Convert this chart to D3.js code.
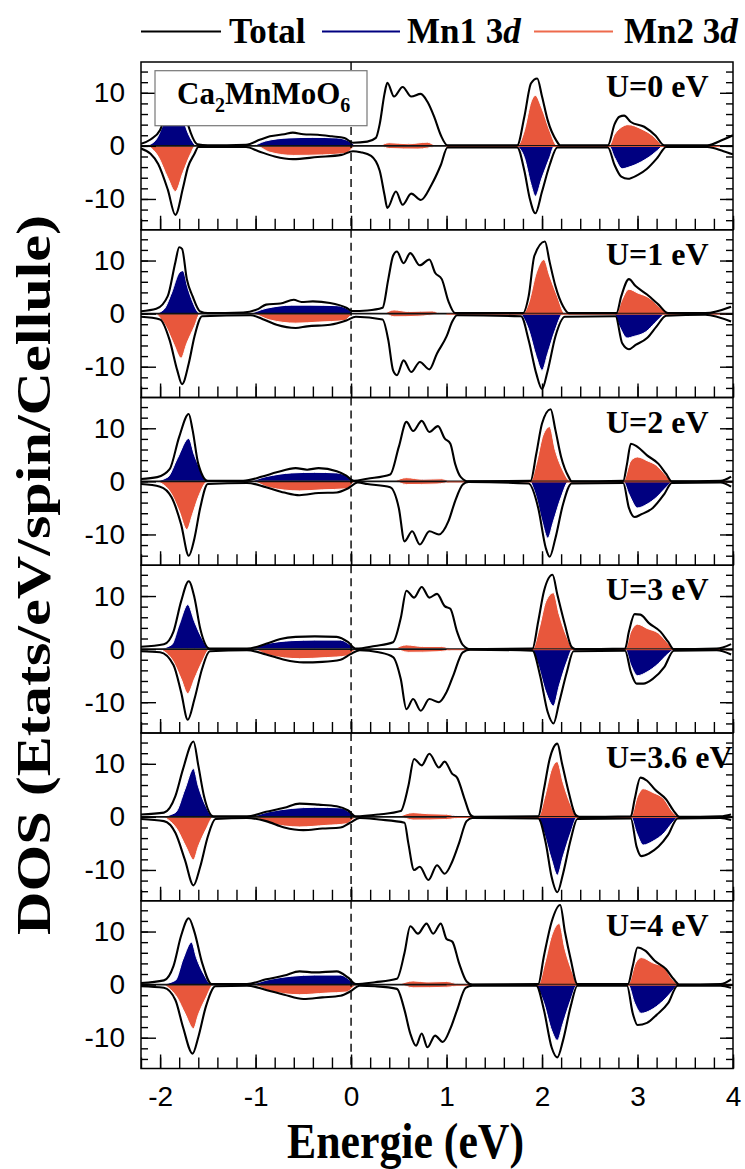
<!DOCTYPE html>
<html>
<head>
<meta charset="utf-8">
<script src="https://cdn.jsdelivr.net/npm/d3@7"></script>
<style>
  body { margin: 0; background: #fff; }
  svg { display: block; }
</style>
</head>
<body>
<svg id="chart" width="745" height="1169"></svg>
<script>
// ---- data: [energy (eV), DOS] pairs, one list per panel ----
const panelLabels = ["U=0 eV", "U=1 eV", "U=2 eV", "U=3 eV", "U=3.6 eV", "U=4 eV"];
const xMajorTicks = [-2, -1, 0, 1, 2, 3, 4];
const yMajorTicks = [-10, 0, 10];
const xDomain = [-2.2, 4];
const yDomain = [-15.8, 15.8];

const totalUp = [
  [[-2.2,0.4],[-2.1,1.2],[-2.0,3],[-1.93,7],[-1.86,12],[-1.82,12.6],[-1.78,10],[-1.73,5.5],[-1.68,2.5],[-1.61,0.3],[-1.5,0.1],[-1.1,0.2],[-0.95,1.2],[-0.85,1.8],[-0.7,2.2],[-0.61,2.5],[-0.5,2.2],[-0.35,2.1],[-0.2,1.8],[-0.07,1.5],[0.02,0.6],[0.17,0.8],[0.26,1.5],[0.30,4.1],[0.35,9.8],[0.38,11.9],[0.45,9.3],[0.54,11.1],[0.63,9.3],[0.73,9.8],[0.8,8.3],[0.87,5.5],[0.94,2],[1.01,0.1],[1.74,0.1],[1.815,5.5],[1.885,11.8],[1.95,12.7],[2.0,9.3],[2.06,4.8],[2.15,1],[2.19,0.1],[2.69,0.1],[2.76,4.1],[2.81,5.5],[2.86,5.7],[2.93,4.5],[3.07,3.6],[3.19,1.9],[3.28,0.1],[3.73,0.1],[3.9,1.2],[4.0,2]],
  [[-2.2,0.45],[-2.04,0.9],[-1.92,3.3],[-1.84,9.7],[-1.80,12.5],[-1.77,12.2],[-1.72,6.5],[-1.66,3.3],[-1.58,0.4],[-1.5,0.1],[-1.13,0.2],[-0.97,0.9],[-0.89,1.7],[-0.74,1.9],[-0.60,2.6],[-0.52,2.2],[-0.40,2.3],[-0.22,2.0],[-0.05,1.1],[0.01,0.5],[0.17,0.6],[0.33,1.1],[0.39,6.5],[0.44,10.9],[0.48,11.7],[0.55,9.5],[0.62,11.4],[0.72,9.1],[0.82,10.2],[0.88,7.7],[0.95,6.5],[1.02,2.3],[1.09,0.1],[1.80,0.1],[1.86,3.3],[1.92,10.9],[2.03,13.6],[2.08,9.7],[2.14,5.2],[2.22,1.4],[2.28,0.1],[2.78,0.1],[2.83,3.3],[2.91,6.5],[2.98,5.2],[3.10,3.6],[3.22,1.7],[3.32,0.1],[3.71,0.1],[3.98,1.3]],
  [[-2.2,0.45],[-2.03,0.8],[-1.90,2.3],[-1.80,8.4],[-1.70,12.7],[-1.66,9.7],[-1.60,3.3],[-1.50,0.1],[-1.13,0.1],[-0.93,0.9],[-0.78,1.7],[-0.58,2.5],[-0.46,2.2],[-0.34,2.5],[-0.15,1.9],[-0.05,1.1],[0.03,0.1],[0.17,0.5],[0.41,1.3],[0.50,6.5],[0.58,11.2],[0.65,9.5],[0.74,11.4],[0.82,9.3],[0.91,10.4],[0.98,8.1],[1.04,7.1],[1.09,3.3],[1.15,0.8],[1.23,0],[1.88,0.1],[1.94,5.2],[2.0,10.9],[2.09,13.6],[2.14,9.7],[2.20,4.6],[2.28,0.8],[2.31,0],[2.85,0.1],[2.89,3.3],[2.93,7.1],[3.0,6.5],[3.10,4.9],[3.22,3.3],[3.30,1.4],[3.36,0],[3.87,0.1],[3.98,0.9]],
  [[-2.2,0.45],[-1.96,0.9],[-1.86,3.3],[-1.78,9],[-1.70,12.8],[-1.64,9.7],[-1.58,3.9],[-1.48,0.1],[-1.09,0.1],[-0.89,1],[-0.74,1.9],[-0.58,2.3],[-0.38,2.4],[-0.15,2.3],[-0.03,1.3],[0.05,0.1],[0.25,0.6],[0.44,1.3],[0.52,5.8],[0.58,11],[0.66,9.7],[0.74,11.7],[0.82,9.7],[0.90,10.4],[0.98,8.1],[1.04,7.6],[1.11,3.3],[1.17,0.8],[1.25,0],[1.90,0.1],[1.96,5.2],[2.02,10.9],[2.11,14],[2.16,10.3],[2.24,4.6],[2.31,0.4],[2.35,0],[2.87,0.1],[2.91,3.3],[2.97,6.6],[3.03,6.5],[3.12,4.9],[3.24,3.3],[3.32,1.4],[3.38,0],[3.83,0.1],[3.98,0.95]],
  [[-2.2,0.45],[-1.96,0.8],[-1.84,3.9],[-1.76,9],[-1.65,14.2],[-1.60,9.7],[-1.54,3.9],[-1.44,0.1],[-1.09,0.1],[-0.89,0.95],[-0.70,1.7],[-0.54,2.5],[-0.34,2.3],[-0.15,2],[-0.03,1.2],[0.05,0.1],[0.29,0.45],[0.52,1.1],[0.60,5.8],[0.66,10.9],[0.74,9.7],[0.82,11.9],[0.92,9.3],[0.98,10.4],[1.06,8.1],[1.11,7.4],[1.19,3.3],[1.25,0.4],[1.29,0],[1.96,0.1],[2.02,5.2],[2.08,10.9],[2.16,13.8],[2.21,10],[2.28,4.6],[2.35,0.4],[2.39,0],[2.93,0.1],[2.97,3.3],[3.03,7.4],[3.10,6.8],[3.18,5.2],[3.30,3.3],[3.38,1.1],[3.44,0],[3.87,0.1],[3.98,0.45]],
  [[-2.2,0.3],[-1.96,0.8],[-1.86,3.5],[-1.78,9.2],[-1.70,12.5],[-1.64,9.9],[-1.56,4.1],[-1.46,0.1],[-1.09,0.1],[-0.89,1],[-0.70,1.7],[-0.54,2.5],[-0.38,2.3],[-0.15,2.5],[-0.03,1.3],[0.05,0.1],[0.25,0.45],[0.48,1.1],[0.56,6],[0.62,11],[0.70,9.6],[0.79,11.5],[0.86,9.6],[0.94,11.5],[1.0,8.6],[1.06,8.1],[1.13,4.1],[1.21,0.6],[1.27,0],[1.96,0.1],[2.02,5.4],[2.10,11.8],[2.19,15],[2.24,9.9],[2.30,4.8],[2.37,0.1],[2.9,0.1],[2.95,3.5],[3.0,7],[3.08,6.4],[3.18,4.5],[3.30,2.9],[3.38,1],[3.44,0],[3.87,0.1],[3.98,1]]
];

const totalDown = [
  [[-2.2,-0.5],[-2.1,-1.5],[-2.02,-3.4],[-1.92,-8.2],[-1.84,-13],[-1.76,-7.9],[-1.71,-4.1],[-1.64,-1.5],[-1.6,-0.2],[-1.1,-0.2],[-0.97,-1],[-0.8,-2],[-0.61,-2.5],[-0.35,-2.1],[-0.1,-1.7],[0.02,-1.0],[0.1,-1.2],[0.21,-1.9],[0.30,-4.7],[0.35,-9.2],[0.38,-11.7],[0.47,-8.6],[0.54,-11.1],[0.63,-9],[0.73,-10.2],[0.84,-7.4],[0.94,-3.6],[1.01,-0.3],[1.74,-0.3],[1.815,-4.7],[1.87,-9.8],[1.93,-12.7],[2.0,-8.6],[2.08,-3.6],[2.16,-0.3],[2.69,-0.3],[2.76,-3.6],[2.83,-5.8],[2.9,-6.2],[3.0,-5.5],[3.1,-4.3],[3.21,-2.2],[3.3,-0.2],[3.73,-0.2],[3.9,-1],[4.0,-1.6]],
  [[-2.2,-0.6],[-2.0,-1.1],[-1.90,-5],[-1.82,-10.7],[-1.77,-13.3],[-1.70,-9.4],[-1.64,-4.3],[-1.56,-0.5],[-1.05,-0.3],[-0.93,-1],[-0.78,-2.1],[-0.58,-2.7],[-0.46,-2.4],[-0.22,-2.1],[-0.05,-1.3],[0.05,-0.6],[0.33,-1.1],[0.39,-5],[0.44,-10.7],[0.48,-11.6],[0.55,-8.8],[0.63,-11],[0.72,-9.1],[0.82,-10.5],[0.90,-7.5],[1.00,-4.3],[1.06,-1.5],[1.11,-0.3],[1.78,-0.5],[1.86,-5],[1.94,-11.3],[2.0,-14.2],[2.06,-10.7],[2.14,-4.3],[2.24,-0.6],[2.77,-0.5],[2.84,-5.6],[2.91,-6.7],[2.98,-5.9],[3.10,-4.6],[3.20,-2.4],[3.30,-0.4],[3.71,-0.2],[3.98,-1.5]],
  [[-2.2,-0.5],[-2.0,-1],[-1.88,-3],[-1.78,-8.1],[-1.70,-14],[-1.64,-10.7],[-1.58,-5],[-1.50,-0.5],[-1.09,-0.3],[-0.89,-1.1],[-0.70,-2.1],[-0.54,-2.6],[-0.34,-2.2],[-0.15,-2.1],[-0.03,-1.3],[0.07,-0.2],[0.17,-0.5],[0.41,-1.1],[0.50,-5],[0.56,-11.3],[0.64,-9.4],[0.72,-11.9],[0.82,-9.4],[0.92,-10],[1.02,-7.5],[1.09,-3.7],[1.17,-0.6],[1.23,-0.1],[1.86,-0.4],[1.96,-5],[2.04,-12.6],[2.08,-14.2],[2.14,-10.7],[2.22,-4.3],[2.31,-0.4],[2.85,-0.3],[2.91,-5],[2.97,-6.7],[3.04,-6.2],[3.16,-5],[3.28,-2.4],[3.36,-0.3],[3.87,-0.2],[3.98,-1]],
  [[-2.2,-0.4],[-2.0,-0.6],[-1.86,-3],[-1.78,-8.1],[-1.71,-13.3],[-1.64,-9.4],[-1.56,-3.7],[-1.48,-0.4],[-1.09,-0.2],[-0.89,-1],[-0.70,-2],[-0.50,-2.5],[-0.30,-2.4],[-0.11,-2],[-0.01,-1],[0.09,-0.2],[0.29,-0.6],[0.44,-1.5],[0.52,-5.6],[0.58,-11.3],[0.65,-9.4],[0.73,-11.6],[0.82,-9.4],[0.92,-10],[1.0,-8.1],[1.07,-5],[1.17,-0.6],[1.25,-0.1],[1.90,-0.3],[1.98,-5],[2.06,-11.9],[2.12,-14],[2.18,-10],[2.26,-4.3],[2.33,-0.4],[2.87,-0.3],[2.93,-4.3],[2.99,-6.5],[3.06,-6.5],[3.16,-5.6],[3.28,-3.4],[3.38,-0.3],[3.83,-0.2],[3.98,-1]],
  [[-2.2,-0.4],[-1.96,-0.8],[-1.84,-3],[-1.74,-8.1],[-1.65,-12.9],[-1.58,-9.4],[-1.50,-3.7],[-1.42,-0.4],[-1.09,-0.2],[-0.89,-0.8],[-0.70,-2],[-0.50,-2.5],[-0.30,-2.2],[-0.11,-2],[-0.01,-1.1],[0.09,-0.2],[0.29,-0.5],[0.56,-1.1],[0.60,-5],[0.66,-10],[0.72,-9.4],[0.81,-11.9],[0.90,-9.1],[0.98,-10.7],[1.06,-8.4],[1.13,-5],[1.21,-0.8],[1.27,-0.2],[1.96,-0.3],[2.04,-5],[2.10,-11.3],[2.16,-14.2],[2.22,-10.7],[2.30,-4.3],[2.37,-0.4],[2.93,-0.3],[2.99,-5.6],[3.04,-7.4],[3.12,-6.9],[3.22,-5.6],[3.32,-3.4],[3.42,-0.3],[3.87,-0.2],[3.98,-0.6]],
  [[-2.2,-0.3],[-1.96,-0.6],[-1.84,-2.9],[-1.76,-8],[-1.66,-13],[-1.60,-9.9],[-1.52,-4.1],[-1.42,-0.3],[-1.09,-0.2],[-0.89,-1],[-0.70,-1.9],[-0.50,-2.7],[-0.30,-2.4],[-0.11,-2.1],[-0.01,-1.3],[0.09,-0.2],[0.25,-0.3],[0.48,-0.8],[0.56,-4.8],[0.62,-9.2],[0.68,-11.5],[0.74,-9.2],[0.80,-11.8],[0.88,-9.6],[0.96,-10.8],[1.04,-8.3],[1.11,-4.8],[1.20,-0.6],[1.27,-0.2],[1.94,-0.2],[2.02,-4.8],[2.10,-11.8],[2.16,-13.7],[2.22,-10.5],[2.30,-4.1],[2.37,-0.2],[2.89,-0.2],[2.95,-5.4],[3.0,-7.6],[3.10,-7.2],[3.20,-5.7],[3.32,-3.5],[3.42,-0.2],[3.87,-0.2],[3.98,-0.6]]
];

// Mn1 3d (navy)
const mn1Up = [
  [[-2.15,0],[-2.05,1],[-1.97,4],[-1.9,7.5],[-1.84,8.5],[-1.78,6.5],[-1.72,3],[-1.66,0.8],[-1.62,0],[-1.05,0],[-0.9,0.9],[-0.65,1.5],[-0.4,1.6],[-0.15,1.5],[0.0,0.7],[0.05,0],[0.3,0],[0.45,0.4],[0.75,0.5],[0.9,0]],
  [[-2.05,0],[-1.96,0.8],[-1.88,3.9],[-1.80,7.7],[-1.76,8.1],[-1.71,4.9],[-1.66,2.3],[-1.58,0],[-1.09,0],[-0.89,1.0],[-0.62,1.6],[-0.42,1.6],[-0.15,1.5],[-0.03,0.8],[0.03,0],[0.35,0],[0.5,0.4],[0.8,0.5],[0.95,0]],
  [[-2.07,0],[-1.92,0.8],[-1.82,4.3],[-1.70,8.1],[-1.64,4.9],[-1.58,2.3],[-1.50,0],[-1.09,0],[-0.89,0.9],[-0.62,1.6],[-0.38,1.7],[-0.15,1.6],[0.01,0.5],[0.05,0],[0.45,0],[0.6,0.4],[0.9,0.5],[1.05,0]],
  [[-2.03,0],[-1.88,0.8],[-1.80,4.6],[-1.71,8.4],[-1.64,5.2],[-1.56,2],[-1.48,0],[-1.09,0],[-0.89,1.0],[-0.62,1.6],[-0.38,1.7],[-0.11,1.7],[0.01,0.6],[0.07,0],[0.45,0],[0.6,0.4],[0.9,0.5],[1.08,0]],
  [[-2.0,0],[-1.84,0.8],[-1.74,5.2],[-1.65,9.1],[-1.60,5.8],[-1.52,2],[-1.44,0],[-1.09,0],[-0.85,1.0],[-0.62,1.6],[-0.38,1.8],[-0.11,1.7],[0.01,0.6],[0.07,0],[0.5,0],[0.7,0.4],[1.0,0.5],[1.15,0]],
  [[-2.0,0],[-1.84,0.8],[-1.76,4.8],[-1.67,8],[-1.62,5.1],[-1.54,1.9],[-1.46,0],[-1.09,0],[-0.85,1.0],[-0.62,1.6],[-0.38,1.8],[-0.11,1.8],[0.01,0.6],[0.07,0],[0.5,0],[0.7,0.4],[1.0,0.5],[1.15,0]]
];
const mn1Down = [
  [[1.74,0],[1.815,-2.2],[1.885,-7.3],[1.93,-9.5],[2.0,-6],[2.08,-2.2],[2.13,0],[2.7,0],[2.76,-2.2],[2.84,-4.3],[2.91,-4],[3.04,-3],[3.16,-1.6],[3.26,0]],
  [[1.78,0],[1.86,-3],[1.94,-8.1],[2.0,-10.7],[2.06,-7.5],[2.14,-3],[2.22,0],[2.75,0],[2.81,-2.4],[2.89,-4.6],[2.96,-4.3],[3.09,-3.4],[3.18,-1.8],[3.28,0]],
  [[1.88,0],[1.94,-3],[2.0,-7.5],[2.06,-10.7],[2.12,-7.5],[2.20,-3],[2.28,0],[2.85,0],[2.91,-2.4],[3.0,-5],[3.10,-4.3],[3.20,-3],[3.28,-1.5],[3.36,0]],
  [[1.90,0],[1.96,-3],[2.04,-8.1],[2.12,-10.7],[2.18,-6.9],[2.26,-2.4],[2.32,0],[2.87,0],[2.93,-3],[3.0,-5],[3.10,-4.3],[3.22,-2.7],[3.30,-1.2],[3.38,0]],
  [[1.96,0],[2.02,-3],[2.10,-8.1],[2.16,-11],[2.22,-7.5],[2.30,-3],[2.37,0],[2.93,0],[2.99,-3],[3.06,-5.3],[3.16,-4.6],[3.28,-3],[3.36,-1.2],[3.42,0]],
  [[1.94,0],[2.02,-3.5],[2.10,-8.6],[2.16,-10.5],[2.22,-7.3],[2.30,-2.9],[2.37,0],[2.9,0],[2.97,-3.5],[3.04,-5.4],[3.14,-4.8],[3.26,-3.2],[3.36,-1.3],[3.42,0]]
];

// Mn2 3d (orange)
const mn2Up = [
  [[0.3,0],[0.4,0.6],[0.6,0.4],[0.8,0.7],[0.9,0],[1.74,0],[1.815,2.9],[1.885,8.3],[1.93,9.5],[2.0,7],[2.08,2.9],[2.16,0],[2.7,0],[2.76,2.2],[2.83,3.5],[2.9,4],[3.04,3.2],[3.16,1.9],[3.26,0]],
  [[0.35,0],[0.45,0.7],[0.6,0.4],[0.85,0.5],[0.95,0],[1.8,0],[1.86,2],[1.94,7.7],[2.02,10.2],[2.08,7.1],[2.16,3.3],[2.24,0],[2.78,0],[2.83,2.3],[2.91,4.6],[3.0,3.9],[3.12,3],[3.24,1.1],[3.32,0]],
  [[0.45,0],[0.58,0.7],[0.75,0.4],[0.95,0.5],[1.05,0],[1.88,0],[1.94,3.3],[2.01,8.7],[2.08,10.3],[2.14,5.8],[2.22,2],[2.30,0],[2.85,0],[2.93,3.9],[3.0,4.6],[3.10,3.9],[3.20,3],[3.30,1.1],[3.36,0]],
  [[0.45,0],[0.58,0.8],[0.75,0.5],[0.95,0.5],[1.08,0],[1.90,0],[1.97,3.9],[2.04,9],[2.12,10.6],[2.18,6.5],[2.26,2.3],[2.33,0],[2.87,0],[2.93,3.3],[3.0,4.7],[3.10,3.9],[3.22,3],[3.32,1.1],[3.38,0]],
  [[0.5,0],[0.65,0.8],[0.8,0.6],[1.0,0.5],[1.15,0],[1.96,0],[2.03,3.9],[2.10,9],[2.16,10.4],[2.22,6.5],[2.30,2.3],[2.37,0],[2.93,0],[3.0,3.9],[3.06,5.3],[3.16,4.6],[3.28,3.3],[3.36,1.1],[3.42,0]],
  [[0.5,0],[0.65,0.7],[0.8,0.5],[1.0,0.6],[1.15,0],[1.96,0],[2.03,4.1],[2.10,9.2],[2.18,11.5],[2.24,6.7],[2.32,2.2],[2.37,0],[2.9,0],[2.98,4.1],[3.04,5.1],[3.16,4.1],[3.28,3.2],[3.36,1.1],[3.42,0]]
];
const mn2Down = [
  [[-2.12,0],[-2.02,-2],[-1.92,-6],[-1.84,-8.6],[-1.76,-5],[-1.68,-1.5],[-1.63,0],[-1.0,0],[-0.85,-1.2],[-0.6,-1.8],[-0.3,-1.7],[-0.05,-1.4],[0.05,0],[0.3,0],[0.4,-0.5],[0.7,-0.6],[0.9,0]],
  [[-2.04,0],[-1.94,-2.4],[-1.86,-5.6],[-1.78,-8.4],[-1.72,-5.6],[-1.64,-2.4],[-1.58,0],[-1.05,0],[-0.85,-1.2],[-0.58,-1.8],[-0.34,-1.6],[-0.07,-1.3],[0.03,0],[0.35,0],[0.45,-0.6],[0.7,-0.5],[0.95,0]],
  [[-2.03,0],[-1.88,-2.4],[-1.80,-5.6],[-1.72,-9.1],[-1.66,-6.2],[-1.60,-3],[-1.50,0],[-1.05,0],[-0.85,-1.2],[-0.54,-1.8],[-0.30,-1.6],[-0.05,-1.4],[0.05,0],[0.45,0],[0.58,-0.6],[0.9,-0.5],[1.05,0]],
  [[-2.0,0],[-1.86,-2.4],[-1.78,-5.6],[-1.71,-8.4],[-1.64,-5.6],[-1.56,-2.4],[-1.48,0],[-1.05,0],[-0.85,-1.2],[-0.54,-1.8],[-0.26,-1.6],[-0.05,-1.3],[0.07,0],[0.45,0],[0.6,-0.6],[0.9,-0.5],[1.08,0]],
  [[-1.96,0],[-1.82,-2.4],[-1.73,-5.6],[-1.65,-8.1],[-1.60,-5.6],[-1.52,-2.4],[-1.44,0],[-1.05,0],[-0.85,-1.2],[-0.54,-1.9],[-0.26,-1.6],[-0.05,-1.3],[0.07,0],[0.5,0],[0.65,-0.6],[1.0,-0.5],[1.15,0]],
  [[-1.96,0],[-1.82,-2.5],[-1.74,-5.4],[-1.65,-8.3],[-1.60,-5.7],[-1.52,-2.5],[-1.44,0],[-1.05,0],[-0.85,-1.2],[-0.54,-1.9],[-0.26,-1.6],[-0.05,-1.4],[0.07,0],[0.5,0],[0.65,-0.6],[1.0,-0.5],[1.15,0]]
];

// ---- drawing ----
const svg = d3.select("#chart");
const width = 745, height = 1169;
const plotLeft = 141, plotRight = 733, plotTop = 62, panelH = 167.75;
const navy = "#000080", orange = "#E8573C";
const serif = "'Liberation Serif', 'Times New Roman', serif";
const sans = "'Liberation Sans', Arial, sans-serif";

svg.append("rect").attr("width", width).attr("height", height).attr("fill", "white");

const x = d3.scaleLinear().domain(xDomain).range([plotLeft, plotRight]);
const xMinor = d3.range(-22, 41, 2).map(d => d / 10);
const yMinor = d3.range(-14, 15, 2);

panelLabels.forEach((label, i) => {
    const top = plotTop + i * panelH;
    const bottom = top + panelH;
    const y = d3.scaleLinear().domain(yDomain).range([bottom, top]);

    svg.append("clipPath").attr("id", "clip" + i)
        .append("rect")
        .attr("x", plotLeft).attr("y", top)
        .attr("width", plotRight - plotLeft).attr("height", panelH);

    const g = svg.append("g");
    const plot = g.append("g").attr("clip-path", `url(#clip${i})`);

    const area = d3.area()
        .x(d => x(d[0]))
        .y0(y(0))
        .y1(d => y(d[1]))
        .curve(d3.curveMonotoneX);
    const line = d3.line()
        .x(d => x(d[0]))
        .y(d => y(d[1]))
        .curve(d3.curveMonotoneX);

    // projected DOS fills
    [[mn1Up, navy], [mn1Down, navy], [mn2Up, orange], [mn2Down, orange]].forEach(([series, color]) => {
        plot.append("path")
            .datum(series[i])
            .attr("d", area)
            .attr("fill", color)
            .attr("stroke", "white")
            .attr("stroke-width", 1)
            .attr("stroke-linejoin", "round");
    });

    // zero lines
    plot.append("line")
        .attr("x1", plotLeft).attr("x2", plotRight)
        .attr("y1", y(0)).attr("y2", y(0))
        .attr("stroke", "#111").attr("stroke-width", 1.8);
    plot.append("line")
        .attr("x1", x(1.0)).attr("x2", plotRight)
        .attr("y1", y(0) + 0.6).attr("y2", y(0) + 0.6)
        .attr("stroke", orange).attr("stroke-width", 0.9);

    // total DOS
    [totalUp, totalDown].forEach(series => {
        plot.append("path")
            .datum(series[i])
            .attr("d", line)
            .attr("fill", "none")
            .attr("stroke", "#000")
            .attr("stroke-width", 2.1)
            .attr("stroke-linejoin", "round");
    });

    // Fermi level
    g.append("line")
        .attr("x1", x(0)).attr("x2", x(0))
        .attr("y1", top).attr("y2", bottom)
        .attr("stroke", "#000").attr("stroke-width", 1.4)
        .attr("stroke-dasharray", "8,5");

    // ticks
    const styleAxis = sel => {
        sel.select(".domain").remove();
        sel.selectAll(".tick line").attr("stroke", "#000").attr("stroke-width", 1.4);
        sel.selectAll("text").attr("font-family", sans).attr("font-size", 28).attr("fill", "#000");
    };
    g.append("g").attr("transform", `translate(${plotLeft},0)`)
        .call(d3.axisLeft(y).tickValues(yMinor).tickSize(-7).tickFormat(""))
        .call(styleAxis);
    g.append("g").attr("transform", `translate(${plotLeft},0)`)
        .call(d3.axisLeft(y).tickValues(yMajorTicks).tickSize(-15).tickPadding(16).tickFormat(d => String(d)))
        .call(styleAxis);
    g.append("g").attr("transform", `translate(${plotRight},0)`)
        .call(d3.axisRight(y).tickValues(yMinor).tickSize(-7).tickFormat(""))
        .call(styleAxis);
    g.append("g").attr("transform", `translate(${plotRight},0)`)
        .call(d3.axisRight(y).tickValues(yMajorTicks).tickSize(-13).tickFormat(""))
        .call(styleAxis);
    g.append("g").attr("transform", `translate(0,${bottom})`)
        .call(d3.axisBottom(x).tickValues(xMinor).tickSize(-11).tickFormat(""))
        .call(styleAxis);
    g.append("g").attr("transform", `translate(0,${bottom})`)
        .call(d3.axisBottom(x).tickValues(xMajorTicks).tickSize(-14).tickPadding(18)
            .tickFormat(i === panelLabels.length - 1 ? (d => String(d)) : ""))
        .call(styleAxis);

    // frame
    g.append("rect")
        .attr("x", plotLeft).attr("y", top)
        .attr("width", plotRight - plotLeft).attr("height", panelH)
        .attr("fill", "none").attr("stroke", "#000").attr("stroke-width", 1.5);

    // panel label
    g.append("text")
        .attr("x", 606).attr("y", top + 35)
        .attr("font-family", serif).attr("font-weight", "bold").attr("font-size", 32)
        .text(label);
});

// compound box in the first panel
const box = svg.append("g");
box.append("rect")
    .attr("x", 155).attr("y", 70.7).attr("width", 212).attr("height", 55)
    .attr("fill", "white").attr("stroke", "#777").attr("stroke-width", 1.2);
const formula = box.append("text")
    .attr("x", 177).attr("y", 104)
    .attr("font-family", serif).attr("font-weight", "bold").attr("font-size", 31);
formula.append("tspan").text("Ca");
formula.append("tspan").attr("font-size", 20).attr("dy", 8).text("2");
formula.append("tspan").attr("dy", -8).text("MnMoO");
formula.append("tspan").attr("font-size", 20).attr("dy", 8).text("6");

// legend
const legendItems = [
    { label: "Total", sub: "", color: "#000", x1: 141, x2: 221, tx: 229 },
    { label: "Mn1 3", sub: "d", color: navy, x1: 322, x2: 400, tx: 407 },
    { label: "Mn2 3", sub: "d", color: "#EE6A4C", x1: 534, x2: 613, tx: 624 }
];
legendItems.forEach(item => {
    svg.append("line")
        .attr("x1", item.x1).attr("x2", item.x2)
        .attr("y1", 31.5).attr("y2", 31.5)
        .attr("stroke", item.color).attr("stroke-width", 2.2);
    const t = svg.append("text")
        .attr("x", item.tx).attr("y", 43)
        .attr("font-family", serif).attr("font-weight", "bold").attr("font-size", 35);
    t.append("tspan").text(item.label);
    if (item.sub) t.append("tspan").attr("font-style", "italic").text(item.sub);
});

// axis titles (the source figure is slightly stretched vertically)
svg.append("text")
    .attr("transform", "translate(287,1158) scale(1,1.13)")
    .attr("font-family", serif).attr("font-weight", "bold").attr("font-size", 45)
    .attr("textLength", 237).attr("lengthAdjust", "spacingAndGlyphs")
    .text("Energie (eV)");

svg.append("text")
    .attr("transform", "translate(50,575) rotate(-90)")
    .attr("text-anchor", "middle")
    .attr("font-family", serif).attr("font-weight", "bold").attr("font-size", 48)
    .attr("textLength", 720).attr("lengthAdjust", "spacingAndGlyphs")
    .text("DOS (Etats/eV/spin/Cellule)");
</script>
</body>
</html>
